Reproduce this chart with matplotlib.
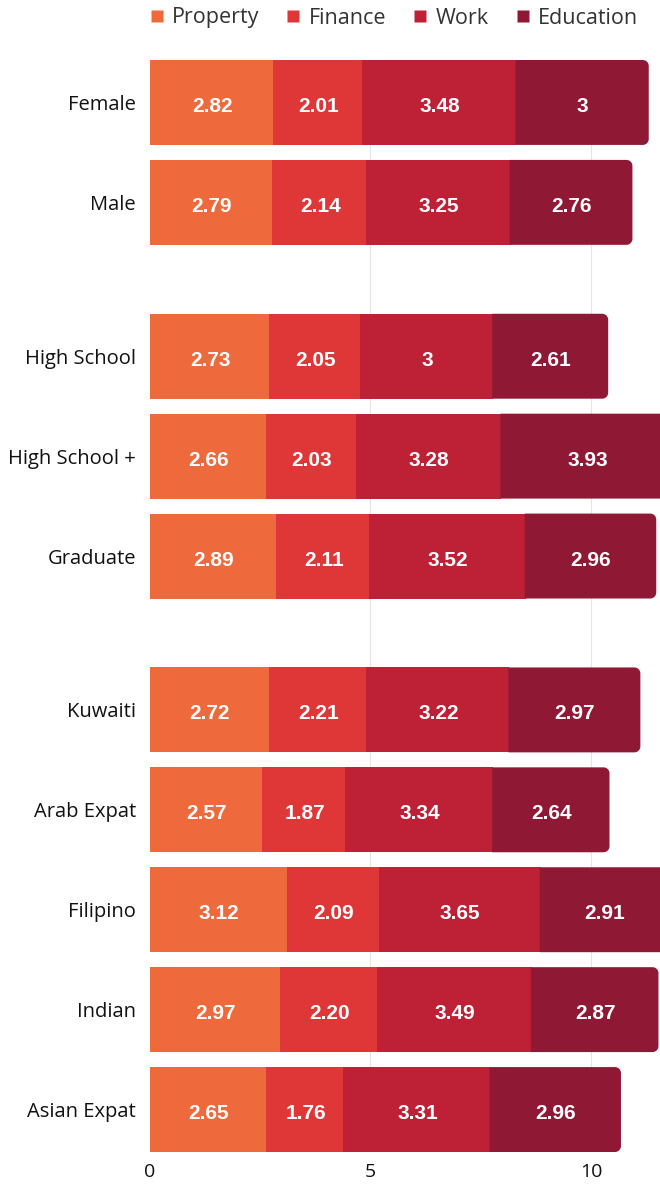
import matplotlib
matplotlib.use("Agg")
import numpy as np
import matplotlib.pyplot as plt
from matplotlib.patches import PathPatch
from matplotlib.path import Path
from matplotlib.lines import Line2D

categories = ["Female", "Male", "High School", "High School +", "Graduate",
              "Kuwaiti", "Arab Expat", "Filipino", "Indian", "Asian Expat"]
groups = [0, 0, 1, 1, 1, 2, 2, 2, 2, 2]
series_names = ["Property", "Finance", "Work", "Education"]
property_vals = [2.82, 2.79, 2.73, 2.66, 2.89, 2.72, 2.57, 3.12, 2.97, 2.65]
finance_vals = [2.01, 2.14, 2.05, 2.03, 2.11, 2.21, 1.87, 2.09, 2.20, 1.76]
work_vals = [3.48, 3.25, 3.00, 3.28, 3.52, 3.22, 3.34, 3.65, 3.49, 3.31]
education_vals = [3.00, 2.76, 2.61, 3.93, 2.96, 2.97, 2.64, 2.91, 2.87, 2.96]
value_labels = [
    ["2.82", "2.79", "2.73", "2.66", "2.89", "2.72", "2.57", "3.12", "2.97", "2.65"],
    ["2.01", "2.14", "2.05", "2.03", "2.11", "2.21", "1.87", "2.09", "2.20", "1.76"],
    ["3.48", "3.25", "3", "3.28", "3.52", "3.22", "3.34", "3.65", "3.49", "3.31"],
    ["3", "2.76", "2.61", "3.93", "2.96", "2.97", "2.64", "2.91", "2.87", "2.96"],
]
colors = ["#EE693C", "#DF3638", "#BE2035", "#8F1934"]
x_ticks = [0, 5, 10]

series = [property_vals, finance_vals, work_vals, education_vals]

W, H = 660, 1189
fig = plt.figure(figsize=(W / 100, H / 100), dpi=100)
ax_left, ax_right = 150 / W, 1.0
ax_top, ax_bot = 1 - 60 / H, 1 - 1152 / H
ax = fig.add_axes([ax_left, ax_bot, ax_right - ax_left, ax_top - ax_bot])

group_gap = 0.54
ypos = [i + g * group_gap for i, g in enumerate(groups)]
bar_h = 0.85
xmax = 11.565
ax.set_xlim(0, xmax)
ax.set_ylim(ypos[-1] + bar_h / 2, ypos[0] - bar_h / 2)

for xt in x_ticks[1:]:
    ax.axvline(xt, color="#e4e4e4", lw=0.8, zorder=0)

px_x = (W * (ax_right - ax_left)) / xmax
px_y = (H * (ax_top - ax_bot)) / (ypos[-1] - ypos[0] + bar_h)
rx = 6 / px_x
ry = 6 / px_y
overlap = 1 / px_x


def right_rounded(x0, x1, yc, h):
    y0, y1 = yc - h / 2, yc + h / 2
    t1 = np.linspace(-np.pi / 2, 0, 12)
    t2 = np.linspace(0, np.pi / 2, 12)
    verts = [(x0, y0), (x1 - rx, y0)]
    verts += [(x1 - rx + rx * np.cos(t), y0 + ry + ry * np.sin(t)) for t in t1]
    verts += [(x1 - rx + rx * np.cos(t), y1 - ry + ry * np.sin(t)) for t in t2]
    verts += [(x1 - rx, y1), (x0, y1), (x0, y0)]
    codes = [Path.MOVETO] + [Path.LINETO] * (len(verts) - 2) + [Path.CLOSEPOLY]
    return Path(verts, codes)


for i, y in enumerate(ypos):
    left = 0
    for s, vals in enumerate(series):
        v = vals[i]
        x0 = left - (overlap if s > 0 else 0)
        if s < len(series) - 1:
            ax.barh(y, v + (left - x0), left=x0, height=bar_h, color=colors[s],
                    zorder=2, linewidth=0)
        else:
            ax.add_patch(PathPatch(right_rounded(x0, left + v, y, bar_h),
                                   facecolor=colors[s], edgecolor="none", zorder=2))
        ax.text(left + v / 2, y + 0.04, value_labels[s][i], ha="center", va="center",
                color="white", fontsize=15, fontweight="bold",
                family="Liberation Sans", zorder=3)
        left += v

ax.set_yticks(ypos)
ax.set_yticklabels(categories, family="Open Sans", fontsize=14.5, color="#111111")
ax.set_xticks(x_ticks)
ax.set_xticklabels([str(t) for t in x_ticks], family="Open Sans", fontsize=14, color="#111111")
ax.tick_params(axis="both", length=0)
ax.tick_params(axis="y", pad=10)
ax.tick_params(axis="x", pad=8)
for sp in ax.spines.values():
    sp.set_visible(False)

handles = [Line2D([0], [0], marker="s", linestyle="none", markersize=8,
                  markerfacecolor=c, markeredgecolor="none") for c in colors]
fig.legend(handles, series_names, loc="center", bbox_to_anchor=(0.5924, 1 - 18 / H),
           ncol=4, frameon=False, handletextpad=0.1, columnspacing=1.0,
           handlelength=1.2,
           prop={"family": "Open Sans", "size": 15.5}, labelcolor="#333333")

fig.savefig("out.png", dpi=100)
